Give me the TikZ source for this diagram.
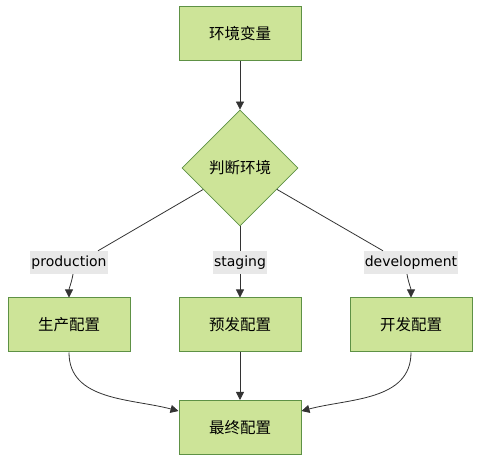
\documentclass[tikz,border=0pt]{standalone}
\usepackage{fontspec}
\setmainfont{DejaVu Sans}
\newfontfamily\cjk{Noto Sans CJK SC}
\usetikzlibrary{arrows.meta,shapes.geometric}
\definecolor{boxfill}{HTML}{CDE498}
\definecolor{boxline}{HTML}{5E9145}
\definecolor{labelfill}{HTML}{E8E8E8}
\definecolor{linkline}{HTML}{333333}

\tikzset{
    cfgbox/.style={draw=boxline, fill=boxfill, line width=1pt, minimum width=122pt,
        minimum height=54pt, inner sep=0pt, font=\cjk\fontsize{15.5}{18}\selectfont},
    judgebox/.style={draw=boxline, fill=boxfill, line width=0.8pt, diamond, aspect=1,
        minimum width=116pt, minimum height=116pt, inner sep=0pt,
        font=\cjk\fontsize{15.5}{18}\selectfont},
    envlabel/.style={fill=labelfill, inner xsep=1pt, inner ysep=0pt, minimum height=23pt,
        text height=11pt, text depth=3.5pt, font=\fontsize{14}{16}\selectfont},
    link/.style={draw=linkline, line width=0.8pt},
    arrow/.style={link, -{Triangle[length=8pt,width=8pt]}}
}

\begin{document}
\begin{tikzpicture}[x=1pt,y=-1pt]
        \useasboundingbox (0,0) rectangle (488,470);
        \node [cfgbox] (env) at (240, 34) {环境变量};
        \node [judgebox] (judge) at (240, 168) {判断环境};
        \node [envlabel] (lprod) at (69, 262.5) {production};
        \node [envlabel] (lstage) at (240, 262.5) {staging};
        \node [envlabel] (ldev) at (411, 262.5) {development};
        \node [cfgbox] (prod) at (69, 325) {生产配置};
        \node [cfgbox] (stage) at (240, 325) {预发配置};
        \node [cfgbox] (dev) at (411, 325) {开发配置};
        \node [cfgbox] (final) at (240, 427.5) {最终配置};
        \draw [arrow] (env) -- (judge);
        \draw [link] (judge) -- ([xshift=29pt]lprod.north);
        \draw [link] (judge) -- (lstage);
        \draw [link] (judge) -- ([xshift=-28pt]ldev.north);
        \draw [arrow] ([xshift=4pt]lprod.south) to [out=-100, in=90] (prod);
        \draw [arrow] (lstage) -- (stage);
        \draw [arrow] ([xshift=-4pt]ldev.south) to [out=-80, in=90] (dev);
        \draw [arrow] (prod) to [out=-90, in=165] (final);
        \draw [arrow] (stage) -- (final);
        \draw [arrow] (dev) to [out=-90, in=15] (final);
    \end{tikzpicture}
\end{document}
